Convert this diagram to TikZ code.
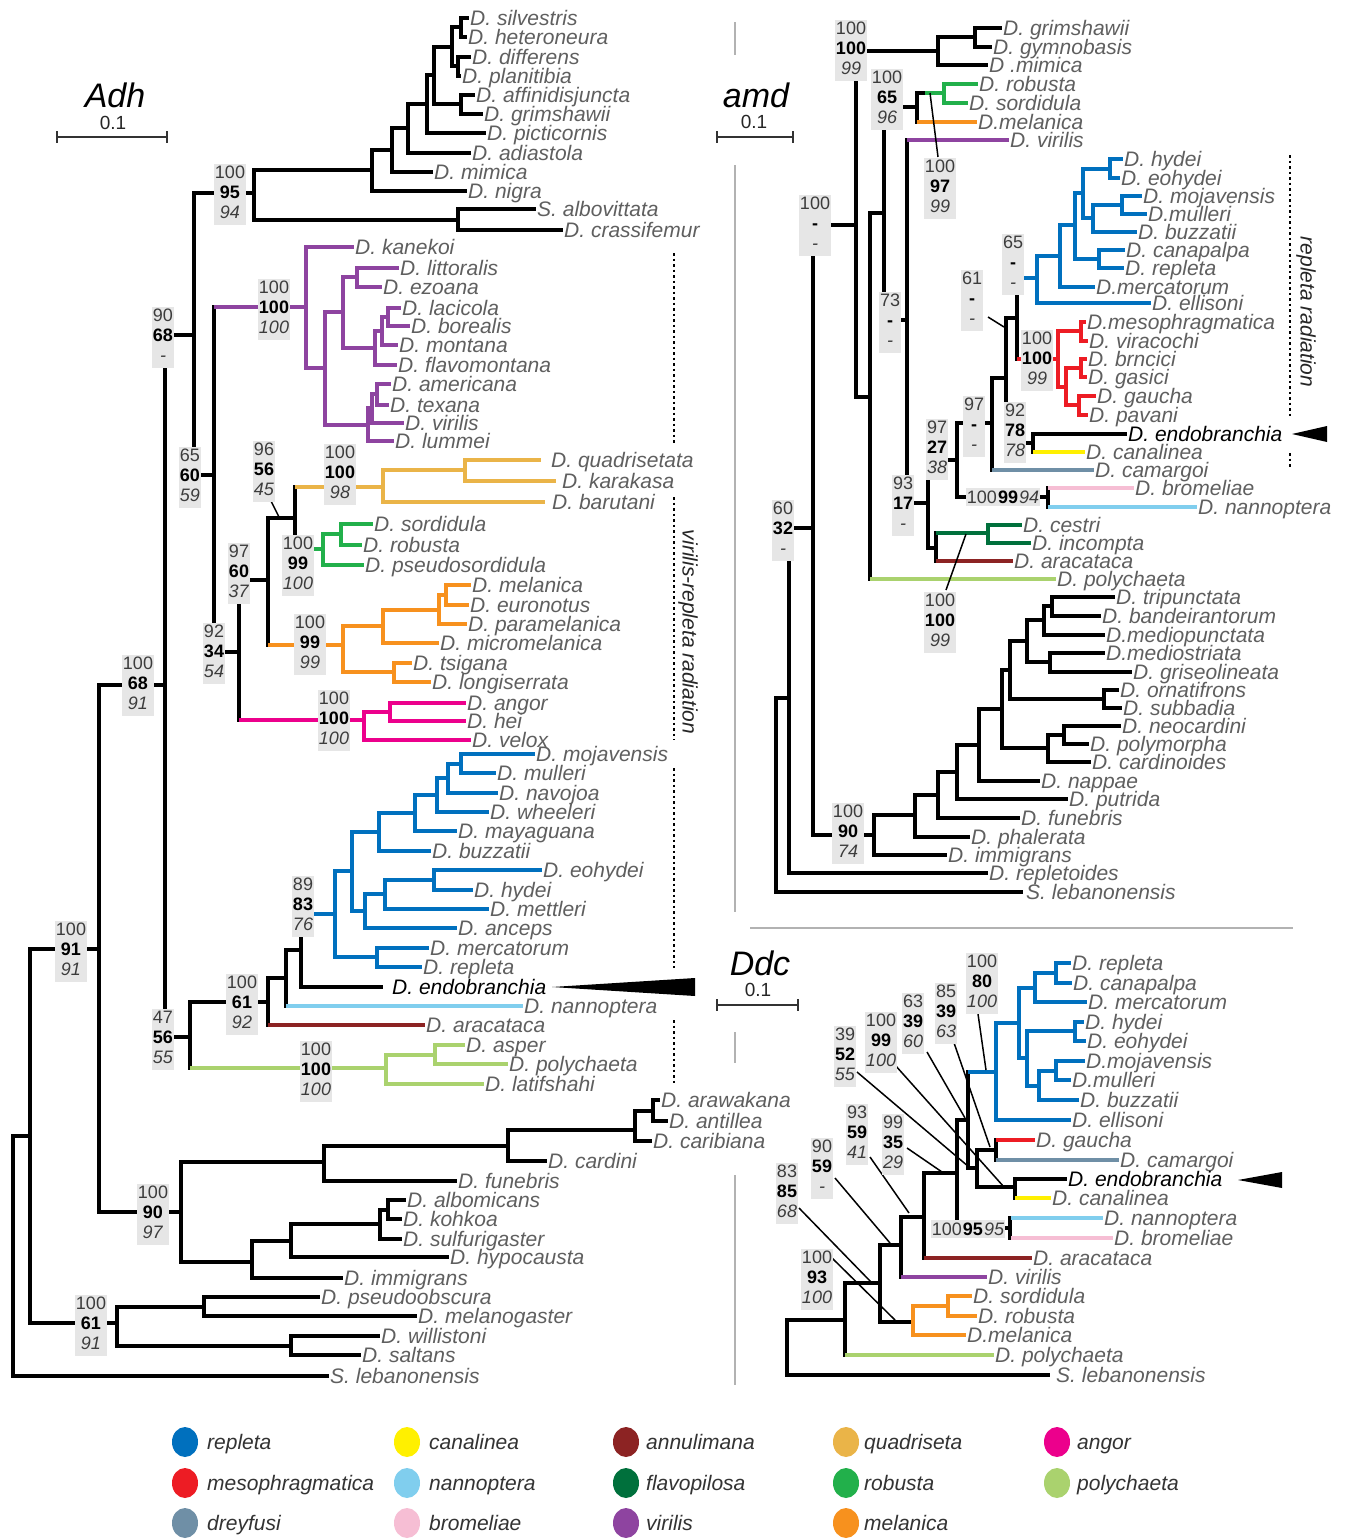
\documentclass[tikz,border=0pt]{standalone}
\usepackage{fontspec}
\setmainfont{Liberation Sans}
\definecolor{cRep}{RGB}{0,112,190}
\definecolor{cMes}{RGB}{237,28,36}
\definecolor{cDre}{RGB}{111,143,166}
\definecolor{cCan}{RGB}{255,240,0}
\definecolor{cNan}{RGB}{128,206,238}
\definecolor{cBro}{RGB}{246,190,212}
\definecolor{cAnn}{RGB}{140,35,35}
\definecolor{cFla}{RGB}{0,112,60}
\definecolor{cVir}{RGB}{142,68,160}
\definecolor{cQua}{RGB}{234,180,72}
\definecolor{cRob}{RGB}{34,176,75}
\definecolor{cMel}{RGB}{247,145,30}
\definecolor{cAng}{RGB}{236,0,140}
\definecolor{cPol}{RGB}{170,210,110}
\definecolor{labgray}{RGB}{95,95,95}
\definecolor{bsgray}{RGB}{230,230,230}
\definecolor{bsnum}{RGB}{60,60,60}
\definecolor{sepgray}{RGB}{178,178,178}
\newcommand\Vb[4][br]{\draw[#1] (#2,#3) -- (#2,#4);}
\newcommand\Hb[4][br]{\draw[#1] (#2,#4) -- (#3,#4);}
\newcommand\leaf[7][]{\node[tx,#1] (#3) at (#5,#6) {#7};\draw[#2] (#4,#6) -- (#3.west);}
\newcommand\bsb[6]{\node[bs] (#1) at (#2,#3+2.4) {\begin{tabular}{@{}c@{}}#4\\\textcolor{black}{\textbf{#5}}\\\textit{#6}\end{tabular}};}
\begin{document}
\begin{tikzpicture}[x=1pt,y=-1pt,
 br/.style={line width=3.2pt,line cap=rect,draw=black},
 cb/.style={line width=3.8pt,line cap=rect,draw=#1},
 Lrep/.style={cb=cRep}, Lmes/.style={cb=cMes}, Ldre/.style={cb=cDre}, Lcan/.style={cb=cCan},
 Lnan/.style={cb=cNan}, Lbro/.style={cb=cBro}, Lann/.style={cb=cAnn}, Lfla/.style={cb=cFla},
 Lvir/.style={cb=cVir}, Lqua/.style={cb=cQua}, Lrob/.style={cb=cRob}, Lmel/.style={cb=cMel},
 Lang/.style={cb=cAng}, Lpol/.style={cb=cPol},
 tx/.style={anchor=west,inner xsep=3pt,inner ysep=0pt,text height=15pt,text depth=0pt,text=labgray,font=\fontsize{21}{21}\selectfont\itshape},
 bs/.style={fill=bsgray,inner xsep=0.8pt,inner ysep=0.5pt,text=bsnum,font=\fontsize{18}{20}\selectfont},
 bsi/.style={fill=bsgray,inner xsep=1pt,inner ysep=3pt,text=bsnum,font=\fontsize{18}{20}\selectfont},
 ptr/.style={line width=1.5pt,draw=black},
 sep/.style={line width=2pt,draw=sepgray},
 dotl/.style={line width=2.2pt,dash pattern=on 2.5pt off 3pt},
 rot/.style={rotate=-90,text=black!85,font=\fontsize{21}{21}\selectfont\itshape},
 ttl/.style={font=\fontsize{34}{34}\selectfont\itshape},
 sclab/.style={font=\fontsize{19}{19}\selectfont,text=black!85},
 sbar/.style={line width=1.6pt,draw=black!80},
 leg/.style={anchor=west,text=black!80,font=\fontsize{21}{21}\selectfont\itshape,inner sep=0pt,text height=15pt,text depth=0pt}
]
\useasboundingbox (0,0) rectangle (1349,1539);
\fill[white] (0,0) rectangle (1349,1539);

% ---------- separators ----------
\draw[sep] (735,22) -- (735,55);
\draw[sep] (735,165) -- (735,912);
\draw[sep] (750,928) -- (1293,928);
\draw[sep] (735,1032) -- (735,1063);
\draw[sep] (735,1175) -- (735,1385);

% ---------- titles & scale bars ----------
\node[ttl] (tAdh) at (115,95) {Adh};
\node[sclab] (sAdh) at (113,123) {0.1};
\draw[sbar] (57,137) -- (167,137); \draw[sbar] (57,131) -- (57,143); \draw[sbar] (167,131) -- (167,143);
\node[ttl] (tamd) at (756,95) {amd};
\node[sclab] (samd) at (754,122) {0.1};
\draw[sbar] (717,137) -- (793,137); \draw[sbar] (717,131) -- (717,143); \draw[sbar] (793,131) -- (793,143);
\node[ttl] (tDdc) at (760,963) {Ddc};
\node[sclab] (sDdc) at (758,990) {0.1};
\draw[sbar] (717,1005) -- (798,1005); \draw[sbar] (717,999) -- (717,1011); \draw[sbar] (798,999) -- (798,1011);

% =================== Adh ===================
\leaf{br}{silv}{461}{467}{18}{D. silvestris}
\leaf{br}{hete}{461}{465}{37}{D. heteroneura}
\Vb{461}{18}{37}
\leaf{br}{diff}{458}{469}{57}{D. differens}
\leaf{br}{plan}{458}{459}{76}{D. planitibia}
\Vb{458}{57}{76}
\Hb{452}{461}{27} \Hb{452}{458}{66} \Vb{452}{27}{66}
\leaf{br}{affi}{461}{473}{95}{D. affinidisjuncta}
\leaf{br}{grim}{461}{481}{114}{D. grimshawii}
\Vb{461}{95}{114}
\Hb{434}{452}{47} \Hb{434}{461}{104} \Vb{434}{47}{104}
\leaf{br}{pict}{427}{484}{133}{D. picticornis}
\Hb{427}{434}{75} \Vb{427}{75}{133}
\leaf{br}{adia}{408}{469}{153}{D. adiastola}
\Hb{408}{427}{104} \Vb{408}{104}{153}
\leaf{br}{mimi}{392}{431}{172}{D. mimica}
\Hb{392}{408}{128} \Vb{392}{128}{172}
\leaf{br}{nigr}{372}{465}{191}{D. nigra}
\Hb{372}{392}{150} \Vb{372}{150}{191}
\leaf{br}{albo}{458}{534}{209}{S. albovittata}
\leaf{br}{cras}{458}{561}{230}{D. crassifemur}
\Vb{458}{209}{230}
\Hb{254}{372}{170} \Hb{254}{458}{220} \Vb{254}{170}{220}
\Hb{194}{254}{193}
% backbone
\Vb{194}{193}{475}
\Hb{165}{194}{335}
\Vb{165}{335}{1037}
\Hb{99}{165}{685}
\Vb{99}{685}{1212}
\Hb{30}{99}{949}
\Vb{30}{949}{1323}
\Hb{13}{30}{1136}
\Vb{13}{1136}{1376}
\leaf{br}{slebA}{13}{327}{1376}{S. lebanonensis}
\Hb{194}{214}{475}
\Vb{214}{307}{652}
% virilis group
\Hb[Lvir]{216}{306}{307}
\Vb[Lvir]{306}{247}{368}
\leaf{Lvir}{kane}{306}{352}{247}{D. kanekoi}
\leaf{Lvir}{litt}{357}{397}{268}{D. littoralis}
\leaf{Lvir}{ezoa}{357}{380}{287}{D. ezoana}
\Vb[Lvir]{357}{268}{287}
\leaf{Lvir}{laci}{388}{399}{308}{D. lacicola}
\leaf{Lvir}{bore}{388}{408}{326}{D. borealis}
\Vb[Lvir]{388}{308}{326}
\Hb[Lvir]{382}{388}{317}
\leaf{Lvir}{mont}{382}{396}{345}{D. montana}
\Vb[Lvir]{382}{317}{345}
\Hb[Lvir]{375}{382}{331}
\leaf{Lvir}{flav}{375}{395}{365}{D. flavomontana}
\Vb[Lvir]{375}{331}{365}
\Hb[Lvir]{343}{357}{277} \Hb[Lvir]{343}{375}{348} \Vb[Lvir]{343}{277}{348}
\leaf{Lvir}{amer}{377}{389}{384}{D. americana}
\leaf{Lvir}{texa}{377}{387}{405}{D. texana}
\Vb[Lvir]{377}{384}{405}
\Hb[Lvir]{372}{377}{394}
\leaf{Lvir}{viriA}{372}{402}{423}{D. virilis}
\Vb[Lvir]{372}{394}{423}
\Hb[Lvir]{368}{372}{408}
\leaf{Lvir}{lumm}{368}{392}{441}{D. lummei}
\Vb[Lvir]{368}{408}{441}
\Hb[Lvir]{325}{343}{312} \Hb[Lvir]{325}{368}{425} \Vb[Lvir]{325}{312}{425}
\Hb[Lvir]{306}{325}{368}
% inner backbone
\Hb{214}{239}{652}
\Vb{239}{580}{720}
\Hb{239}{268}{580}
\Vb{268}{518}{645}
\Hb{268}{295}{518}
\Vb{295}{487}{549}
% quadriseta
\Hb[Lqua]{297}{383}{487}
\Vb[Lqua]{383}{470}{502}
\Hb[Lqua]{383}{465}{470}
\Vb[Lqua]{465}{460}{481}
\leaf[inner xsep=12pt]{Lqua}{quad}{465}{539}{460}{D. quadrisetata}
\leaf[inner xsep=8pt]{Lqua}{kara}{465}{554}{481}{D. karakasa}
\leaf[inner xsep=9pt]{Lqua}{baru}{383}{543}{502}{D. barutani}
% robusta
\Hb[Lrob]{297}{323}{549}
\Vb[Lrob]{323}{534}{565}
\Hb[Lrob]{323}{341}{534}
\Vb[Lrob]{341}{524}{545}
\leaf{Lrob}{sordA}{341}{371}{524}{D. sordidula}
\leaf{Lrob}{robuA}{341}{360}{545}{D. robusta}
\leaf{Lrob}{pseu}{323}{362}{565}{D. pseudosordidula}
% melanica
\Hb[Lmel]{270}{343}{645}
\Vb[Lmel]{343}{626}{672}
\Hb[Lmel]{343}{383}{626}
\Vb[Lmel]{383}{610}{643}
\Hb[Lmel]{383}{439}{610}
\Vb[Lmel]{439}{595}{624}
\Hb[Lmel]{439}{446}{595}
\Vb[Lmel]{446}{585}{605}
\leaf{Lmel}{melaA}{446}{469}{585}{D. melanica}
\leaf{Lmel}{euro}{446}{467}{605}{D. euronotus}
\leaf{Lmel}{para}{439}{465}{624}{D. paramelanica}
\leaf{Lmel}{micr}{383}{437}{643}{D. micromelanica}
\Hb[Lmel]{343}{394}{672}
\Vb[Lmel]{394}{663}{682}
\leaf{Lmel}{tsig}{394}{410}{663}{D. tsigana}
\leaf{Lmel}{long}{394}{429}{682}{D. longiserrata}
% angor
\Hb[Lang]{241}{364}{720}
\Vb[Lang]{364}{712}{740}
\Hb[Lang]{364}{390}{712}
\Vb[Lang]{390}{703}{721}
\leaf{Lang}{ango}{390}{464}{703}{D. angor}
\leaf{Lang}{heii}{390}{464}{721}{D. hei}
\leaf{Lang}{velo}{364}{469}{740}{D. velox}
% repleta group
\Hb{165}{190}{1037}
\Vb{190}{1002}{1068}
\Hb{190}{268}{1002}
\Vb{268}{978}{1025}
\Hb{268}{286}{978}
\Vb{286}{950}{1006}
\Hb{286}{301}{950}
\Vb{301}{914}{987}
\leaf[inner xsep=11pt,text=black]{br}{endoA}{301}{381}{987}{D. endobranchia}
\leaf{Lnan}{nannA}{288}{521}{1006}{D. nannoptera}
\leaf{Lann}{aracA}{270}{423}{1025}{D. aracataca}
\Hb[Lrep]{303}{335}{914}
\Vb[Lrep]{335}{871}{957}
\Hb[Lrep]{335}{352}{871}
\Vb[Lrep]{352}{832}{911}
\Hb[Lrep]{352}{379}{832}
\Vb[Lrep]{379}{813}{851}
\Hb[Lrep]{379}{415}{813}
\Vb[Lrep]{415}{795}{831}
\Hb[Lrep]{415}{437}{795}
\Vb[Lrep]{437}{778}{812}
\Hb[Lrep]{437}{448}{778}
\Vb[Lrep]{448}{764}{793}
\Hb[Lrep]{448}{461}{764}
\Vb[Lrep]{461}{754}{773}
\leaf{Lrep}{mojaA}{461}{533}{754}{D. mojavensis}
\leaf{Lrep}{mullA}{461}{494}{773}{D. mulleri}
\leaf{Lrep}{navo}{448}{496}{793}{D. navojoa}
\leaf{Lrep}{whee}{437}{487}{812}{D. wheeleri}
\leaf{Lrep}{maya}{415}{455}{831}{D. mayaguana}
\leaf{Lrep}{buzzA}{379}{429}{851}{D. buzzatii}
\Hb[Lrep]{352}{365}{911}
\Vb[Lrep]{365}{894}{928}
\Hb[Lrep]{365}{385}{894}
\Vb[Lrep]{385}{880}{909}
\Hb[Lrep]{385}{434}{880}
\Vb[Lrep]{434}{870}{890}
\leaf{Lrep}{eohyA}{434}{540}{870}{D. eohydei}
\leaf{Lrep}{hydeA}{434}{471}{890}{D. hydei}
\leaf{Lrep}{mett}{385}{487}{909}{D. mettleri}
\leaf{Lrep}{ance}{365}{455}{928}{D. anceps}
\Hb[Lrep]{335}{377}{957}
\Vb[Lrep]{377}{948}{967}
\leaf{Lrep}{mercA}{377}{427}{948}{D. mercatorum}
\leaf{Lrep}{replA}{377}{420}{967}{D. repleta}
% polychaeta
\Hb[Lpol]{192}{386}{1068}
\Vb[Lpol]{386}{1055}{1084}
\Hb[Lpol]{386}{435}{1055}
\Vb[Lpol]{435}{1045}{1064}
\leaf{Lpol}{aspe}{435}{463}{1045}{D. asper}
\leaf{Lpol}{polyA}{435}{506}{1064}{D. polychaeta}
\leaf{Lpol}{lati}{386}{482}{1084}{D. latifshahi}
% lower groups
\Hb{99}{181}{1212}
\Vb{181}{1162}{1262}
\Hb{181}{324}{1162}
\Vb{324}{1146}{1181}
\Hb{324}{508}{1146}
\Vb{508}{1130}{1161}
\Hb{508}{635}{1130}
\Vb{635}{1111}{1141}
\Hb{635}{653}{1111}
\Vb{653}{1100}{1121}
\leaf{br}{araw}{653}{658}{1100}{D. arawakana}
\leaf{br}{anti}{653}{666}{1121}{D. antillea}
\leaf{br}{cari}{635}{650}{1141}{D. caribiana}
\leaf{br}{card}{508}{545}{1161}{D. cardini}
\leaf{br}{funeA}{324}{455}{1181}{D. funebris}
\Hb{181}{252}{1262}
\Vb{252}{1241}{1278}
\Hb{252}{291}{1241}
\Vb{291}{1224}{1257}
\Hb{291}{380}{1224}
\Vb{380}{1210}{1239}
\Hb{380}{388}{1210}
\Vb{388}{1200}{1219}
\leaf{br}{albm}{388}{404}{1200}{D. albomicans}
\leaf{br}{kohk}{388}{400}{1219}{D. kohkoa}
\leaf{br}{sulf}{380}{400}{1239}{D. sulfurigaster}
\leaf{br}{hypo}{291}{447}{1257}{D. hypocausta}
\leaf{br}{immiA}{252}{341}{1278}{D. immigrans}
\Hb{30}{117}{1323}
\Vb{117}{1307}{1346}
\Hb{117}{204}{1307}
\Vb{204}{1297}{1316}
\leaf{br}{pseo}{204}{318}{1297}{D. pseudoobscura}
\leaf{br}{mlgs}{204}{415}{1316}{D. melanogaster}
\Hb{117}{291}{1346}
\Vb{291}{1336}{1355}
\leaf{br}{will}{291}{378}{1336}{D. willistoni}
\leaf{br}{salt}{291}{359}{1355}{D. saltans}
% Adh extras
\draw[ptr] (271,501) -- (279,517);
\draw[dotl] (674,253) -- (674,445);
\draw[dotl] (674,497) -- (674,740);
\draw[dotl] (674,768) -- (674,968);
\draw[dotl] (674,1020) -- (674,1085);
\node[rot] (vrr) at (688,632) {virilis-repleta radiation};
\fill (552,987) -- (695,978) -- (695,996) -- cycle;
% Adh boxes
\bsb{a1}{230}{192}{100}{95}{94}
\bsb{a2}{163}{335}{90}{68}{-}
\bsb{a3}{274}{307}{100}{100}{100}
\bsb{a4}{190}{475}{65}{60}{59}
\bsb{a5}{264}{469}{96}{56}{45}
\bsb{a6}{340}{472}{100}{100}{98}
\bsb{a7}{239}{571}{97}{60}{37}
\bsb{a8}{298}{563}{100}{99}{100}
\bsb{a9}{214}{651}{92}{34}{54}
\bsb{a10}{310}{642}{100}{99}{99}
\bsb{a11}{334}{718}{100}{100}{100}
\bsb{a12}{138}{683}{100}{68}{91}
\bsb{a13}{303}{904}{89}{83}{76}
\bsb{a14}{71}{949}{100}{91}{91}
\bsb{a15}{242}{1002}{100}{61}{92}
\bsb{a16}{163}{1037}{47}{56}{55}
\bsb{a17}{316}{1069}{100}{100}{100}
\bsb{a18}{153}{1212}{100}{90}{97}
\bsb{a19}{91}{1323}{100}{61}{91}

% =================== amd ===================
\leaf{br}{grimB}{975}{1000}{28}{D. grimshawii}
\leaf{br}{gymn}{975}{990}{47}{D. gymnobasis}
\Vb{975}{28}{47}
\Hb{938}{975}{37}
\leaf{br}{mimiB}{938}{986}{65}{D .mimica}
\Vb{938}{37}{65}
\Hb{856}{938}{51}
\Vb{856}{51}{397}
\Hb{856}{870}{397}
\Vb{870}{213}{579}
\leaf{Lpol}{polyB}{872}{1054}{579}{D. polychaeta}
\Hb{870}{884}{213}
\Vb{884}{107}{320}
\Hb{884}{917}{107}
\Vb{917}{93}{122}
\Hb{917}{925}{93} \Hb[Lrob]{927}{944}{93}
\Vb[Lrob]{944}{84}{103}
\leaf{Lrob}{robuB}{944}{976}{84}{D. robusta}
\leaf{Lrob}{sordB}{944}{966}{103}{D. sordidula}
\leaf{Lmel}{melaB}{919}{975}{122}{D.melanica}
\Hb{884}{907}{320}
\Vb{907}{140}{503}
\leaf{Lvir}{viriB}{909}{1007}{140}{D. virilis}
\Hb{907}{928}{503}
\Vb{928}{460}{548}
\Hb{928}{936}{548}
\Vb{936}{533}{561}
\Hb[Lfla]{938}{988}{533}
\Vb[Lfla]{988}{525}{543}
\leaf{Lfla}{cest}{988}{1020}{525}{D. cestri}
\leaf{Lfla}{inco}{988}{1029}{543}{D. incompta}
\leaf{Lann}{aracB}{938}{1011}{561}{D. aracataca}
\Hb{928}{957}{460}
\Vb{957}{423}{497}
\Hb{957}{1048}{497}
\Vb{1048}{488}{507}
\leaf{Lbro}{bromB}{1050}{1132}{488}{D. bromeliae}
\leaf{Lnan}{nannB}{1050}{1195}{507}{D. nannoptera}
\Hb{957}{992}{423}
\Vb{992}{378}{470}
\leaf{Ldre}{camaB}{994}{1092}{470}{D. camargoi}
\Hb{992}{1006}{378}
\Vb{1006}{318}{443}
\Hb{1006}{1033}{443}
\Vb{1033}{434}{452}
\leaf[text=black]{br}{endoB}{1033}{1125}{434}{D. endobranchia}
\leaf{Lcan}{canaB}{1035}{1083}{452}{D. canalinea}
\Hb{1006}{1017}{318}
\Vb{1017}{278}{359}
\Hb[Lrep]{1019}{1037}{278}
\Vb[Lrep]{1037}{256}{303}
\leaf{Lrep}{elliB}{1037}{1149}{303}{D. ellisoni}
\Hb[Lrep]{1037}{1060}{256}
\Vb[Lrep]{1060}{225}{287}
\leaf{Lrep}{mercB}{1060}{1093}{287}{D.mercatorum}
\Hb[Lrep]{1060}{1075}{225}
\Vb[Lrep]{1075}{193}{259}
\Hb[Lrep]{1075}{1099}{259}
\Vb[Lrep]{1099}{250}{268}
\leaf{Lrep}{capaB}{1099}{1123}{250}{D. canapalpa}
\leaf{Lrep}{replB}{1099}{1122}{268}{D. repleta}
\Hb[Lrep]{1075}{1083}{193}
\Vb[Lrep]{1083}{169}{218}
\Hb[Lrep]{1083}{1110}{169}
\Vb[Lrep]{1110}{159}{178}
\leaf{Lrep}{hydeB}{1110}{1121}{159}{D. hydei}
\leaf{Lrep}{eohyB}{1110}{1118}{178}{D. eohydei}
\Hb[Lrep]{1083}{1093}{218}
\Vb[Lrep]{1093}{205}{232}
\Hb[Lrep]{1093}{1122}{205}
\Vb[Lrep]{1122}{196}{214}
\leaf{Lrep}{mojaB}{1122}{1140}{196}{D. mojavensis}
\leaf{Lrep}{mullB}{1122}{1145}{214}{D.mulleri}
\leaf{Lrep}{buzzB}{1093}{1135}{232}{D. buzzatii}
\Hb[Lmes]{1019}{1058}{359}
\Vb[Lmes]{1058}{331}{387}
\Hb[Lmes]{1058}{1081}{331}
\Vb[Lmes]{1081}{322}{341}
\leaf{Lmes}{meso}{1081}{1084}{322}{D.mesophragmatica}
\leaf{Lmes}{vira}{1081}{1086}{341}{D. viracochi}
\Hb[Lmes]{1058}{1066}{387}
\Vb[Lmes]{1066}{368}{405}
\Hb[Lmes]{1066}{1081}{368}
\Vb[Lmes]{1081}{359}{377}
\leaf{Lmes}{brnc}{1081}{1085}{359}{D. brncici}
\leaf{Lmes}{gasi}{1081}{1085}{377}{D. gasici}
\Hb[Lmes]{1066}{1079}{405}
\Vb[Lmes]{1079}{396}{415}
\leaf{Lmes}{gaucB}{1079}{1094}{396}{D. gaucha}
\leaf{Lmes}{pava}{1079}{1086}{415}{D. pavani}
% amd backbone and outgroups
\Hb{813}{856}{225}
\Vb{813}{225}{835}
\Hb{789}{813}{528}
\Vb{789}{528}{873}
\leaf{br}{rept}{789}{986}{873}{D. repletoides}
\Hb{776}{789}{698}
\Vb{776}{698}{892}
\leaf[inner xsep=5pt]{br}{slebB}{776}{1021}{892}{S. lebanonensis}
\Hb{813}{874}{835}
\Vb{874}{815}{855}
\leaf{br}{immiB}{874}{945}{855}{D. immigrans}
\Hb{874}{915}{815}
\Vb{915}{795}{837}
\leaf{br}{phal}{915}{968}{837}{D. phalerata}
\Hb{915}{938}{795}
\Vb{938}{772}{818}
\leaf{br}{funeB}{938}{1018}{818}{D. funebris}
\Hb{938}{957}{772}
\Vb{957}{745}{799}
\leaf{br}{putr}{957}{1066}{799}{D. putrida}
\Hb{957}{979}{745}
\Vb{979}{709}{781}
\leaf{br}{napp}{979}{1038}{781}{D. nappae}
\Hb{979}{1002}{709}
\Vb{1002}{670}{748}
\Hb{1002}{1048}{748}
\Vb{1048}{735}{762}
\leaf{br}{cdno}{1048}{1089}{762}{D. cardinoides}
\Hb{1048}{1064}{735}
\Vb{1064}{726}{744}
\leaf{br}{neoc}{1064}{1119}{726}{D. neocardini}
\leaf{br}{polm}{1064}{1087}{744}{D. polymorpha}
\Hb{1002}{1010}{670}
\Vb{1010}{641}{699}
\Hb{1010}{1104}{699}
\Vb{1104}{690}{708}
\leaf{br}{orna}{1104}{1117}{690}{D. ornatifrons}
\leaf{br}{subb}{1104}{1120}{708}{D. subbadia}
\Hb{1010}{1027}{641}
\Vb{1027}{620}{662}
\Hb{1027}{1050}{662}
\Vb{1050}{653}{672}
\leaf{br}{mdst}{1050}{1103}{653}{D.mediostriata}
\leaf{br}{gris}{1050}{1130}{672}{D. griseolineata}
\Hb{1027}{1044}{620}
\Vb{1044}{606}{635}
\leaf{br}{mdpu}{1044}{1103}{635}{D.mediopunctata}
\Hb{1044}{1052}{606}
\Vb{1052}{597}{616}
\leaf{br}{trip}{1052}{1113}{597}{D. tripunctata}
\leaf{br}{band}{1052}{1099}{616}{D. bandeirantorum}
% amd extras
\draw[ptr] (938,157) -- (930,93);
\draw[ptr] (988,317) -- (1004,327);
\draw[ptr] (946,590) -- (966,534);
\draw[dotl] (1290,155) -- (1290,417);
\draw[dotl] (1290,453) -- (1290,468);
\node[rot] (rrad) at (1306,312) {repleta radiation};
\fill (1292,434) -- (1327,426) -- (1327,442) -- cycle;
% amd boxes
\bsb{b1}{851}{48}{100}{100}{99}
\bsb{b2}{887}{97}{100}{65}{96}
\bsb{b3}{940}{186}{100}{97}{99}
\bsb{b4}{815}{223}{100}{-}{-}
\bsb{b5}{890}{320}{73}{-}{-}
\bsb{b6}{1013}{262}{65}{-}{-}
\bsb{b7}{972}{298}{61}{-}{-}
\bsb{b8}{1037}{358}{100}{100}{99}
\bsb{b9}{974}{424}{97}{-}{-}
\bsb{b10}{1015}{430}{92}{78}{78}
\bsb{b11}{937}{447}{97}{27}{38}
\bsb{b12}{903}{503}{93}{17}{-}
\bsb{b13}{783}{528}{60}{32}{-}
\bsb{b14}{940}{620}{100}{100}{99}
\bsb{b15}{848}{831}{100}{90}{74}
\node[bsi] (b16) at (1003,497) {100\hspace{1pt}\textcolor{black}{\textbf{99}}\hspace{1pt}\textit{94}};

% =================== Ddc ===================
\Vb{787}{1320}{1375}
\leaf[inner xsep=8pt]{br}{slebC}{787}{1048}{1375}{S. lebanonensis}
\Hb{787}{845}{1320}
\Vb{845}{1283}{1355}
\leaf{Lpol}{polyC}{847}{992}{1355}{D. polychaeta}
\Hb{845}{880}{1283}
\Vb{880}{1245}{1322}
\Hb{880}{913}{1322}
\Vb[Lmel]{913}{1306}{1335}
\Hb[Lmel]{913}{948}{1306}
\Vb[Lmel]{948}{1296}{1316}
\leaf{Lmel}{sordC}{948}{970}{1296}{D. sordidula}
\leaf{Lmel}{robuC}{948}{975}{1316}{D. robusta}
\leaf{Lmel}{melaC}{913}{964}{1335}{D.melanica}
\Hb{880}{901}{1245}
\Vb{901}{1217}{1277}
\leaf{Lvir}{viriC}{903}{985}{1277}{D. virilis}
\Hb{901}{924}{1217}
\Vb{924}{1173}{1258}
\leaf{Lann}{aracC}{926}{1030}{1258}{D. aracataca}
\Hb{924}{957}{1173}
\Vb{957}{1120}{1228}
\Hb{957}{1010}{1228}
\Vb{1010}{1218}{1238}
\leaf{Lnan}{nannC}{1013}{1101}{1218}{D. nannoptera}
\leaf{Lbro}{bromC}{1013}{1111}{1238}{D. bromeliae}
\Hb{957}{968}{1120}
\Vb{968}{1072}{1168}
\Hb{968}{977}{1168}
\Vb{977}{1150}{1187}
\Hb{977}{996}{1150}
\Vb{996}{1140}{1160}
\leaf{Lmes}{gaucC}{998}{1033}{1140}{D. gaucha}
\leaf{Ldre}{camaC}{998}{1117}{1160}{D. camargoi}
\Hb{977}{1015}{1187}
\Vb{1015}{1179}{1198}
\leaf[text=black]{br}{endoC}{1015}{1065}{1179}{D. endobranchia}
\leaf{Lcan}{canaC}{1017}{1049}{1198}{D. canalinea}
\Hb[Lrep]{970}{996}{1072}
\Vb[Lrep]{996}{1023}{1120}
\leaf{Lrep}{elliC}{996}{1069}{1120}{D. ellisoni}
\Hb[Lrep]{996}{1019}{1023}
\Vb[Lrep]{1019}{988}{1058}
\Hb[Lrep]{1019}{1035}{988}
\Vb[Lrep]{1035}{973}{1002}
\leaf{Lrep}{mercC}{1035}{1085}{1002}{D. mercatorum}
\Hb[Lrep]{1035}{1056}{973}
\Vb[Lrep]{1056}{963}{983}
\leaf{Lrep}{replC}{1056}{1069}{963}{D. repleta}
\leaf{Lrep}{capaC}{1056}{1070}{983}{D. canapalpa}
\Hb[Lrep]{1019}{1027}{1058}
\Vb[Lrep]{1027}{1031}{1086}
\Hb[Lrep]{1027}{1075}{1031}
\Vb[Lrep]{1075}{1022}{1041}
\leaf{Lrep}{hydeC}{1075}{1082}{1022}{D. hydei}
\leaf{Lrep}{eohyC}{1075}{1084}{1041}{D. eohydei}
\Hb[Lrep]{1027}{1039}{1086}
\Vb[Lrep]{1039}{1071}{1100}
\Hb[Lrep]{1039}{1056}{1071}
\Vb[Lrep]{1056}{1061}{1080}
\leaf{Lrep}{mojaC}{1056}{1083}{1061}{D.mojavensis}
\leaf{Lrep}{mullC}{1056}{1069}{1080}{D.mulleri}
\leaf{Lrep}{buzzC}{1039}{1077}{1100}{D. buzzatii}
% Ddc pointers
\draw[ptr] (978,1014) -- (986,1070);
\draw[ptr] (952,1037) -- (990,1147);
\draw[ptr] (927,1052) -- (965,1118);
\draw[ptr] (895,1065) -- (1004,1187);
\draw[ptr] (857,1072) -- (969,1167);
\draw[ptr] (907,1148) -- (942,1172);
\draw[ptr] (870,1157) -- (909,1213);
\draw[ptr] (835,1178) -- (890,1243);
\draw[ptr] (799,1208) -- (872,1283);
\draw[ptr] (832,1258) -- (895,1320);
\fill (1238,1180) -- (1282,1172) -- (1282,1188) -- cycle;
% Ddc boxes
\bsb{c1}{982}{981}{100}{80}{100}
\bsb{c2}{946}{1011}{85}{39}{63}
\bsb{c3}{913}{1021}{63}{39}{60}
\bsb{c4}{881}{1040}{100}{99}{100}
\bsb{c5}{845}{1054}{39}{52}{55}
\bsb{c6}{893}{1142}{99}{35}{29}
\bsb{c7}{857}{1132}{93}{59}{41}
\bsb{c8}{822}{1166}{90}{59}{-}
\bsb{c9}{787}{1191}{83}{85}{68}
\bsb{c10}{817}{1277}{100}{93}{100}
\node[bsi] (c11) at (968,1229) {100\hspace{1pt}\textcolor{black}{\textbf{95}}\hspace{1pt}\textit{95}};

% =================== legend ===================
\fill[cRep] (185,1442) ellipse [x radius=13pt,y radius=15pt]; \node[leg] (l1) at (207,1442) {repleta};
\fill[cCan] (407,1442) ellipse [x radius=13pt,y radius=15pt]; \node[leg] (l2) at (429,1442) {canalinea};
\fill[cAnn] (626,1442) ellipse [x radius=13pt,y radius=15pt]; \node[leg] (l3) at (646,1442) {annulimana};
\fill[cQua] (846,1442) ellipse [x radius=13pt,y radius=15pt]; \node[leg] (l4) at (864,1442) {quadriseta};
\fill[cAng] (1057,1442) ellipse [x radius=13pt,y radius=15pt]; \node[leg] (l5) at (1077,1442) {angor};
\fill[cMes] (185,1483) ellipse [x radius=13pt,y radius=15pt]; \node[leg] (l6) at (207,1483) {mesophragmatica};
\fill[cNan] (407,1483) ellipse [x radius=13pt,y radius=15pt]; \node[leg] (l7) at (429,1483) {nannoptera};
\fill[cFla] (626,1483) ellipse [x radius=13pt,y radius=15pt]; \node[leg] (l8) at (646,1483) {flavopilosa};
\fill[cRob] (846,1483) ellipse [x radius=13pt,y radius=15pt]; \node[leg] (l9) at (864,1483) {robusta};
\fill[cPol] (1057,1483) ellipse [x radius=13pt,y radius=15pt]; \node[leg] (l10) at (1077,1483) {polychaeta};
\fill[cDre] (185,1523) ellipse [x radius=13pt,y radius=15pt]; \node[leg] (l11) at (207,1523) {dreyfusi};
\fill[cBro] (407,1523) ellipse [x radius=13pt,y radius=15pt]; \node[leg] (l12) at (429,1523) {bromeliae};
\fill[cVir] (626,1523) ellipse [x radius=13pt,y radius=15pt]; \node[leg] (l13) at (646,1523) {virilis};
\fill[cMel] (846,1523) ellipse [x radius=13pt,y radius=15pt]; \node[leg] (l14) at (864,1523) {melanica};
\end{tikzpicture}
\end{document}
